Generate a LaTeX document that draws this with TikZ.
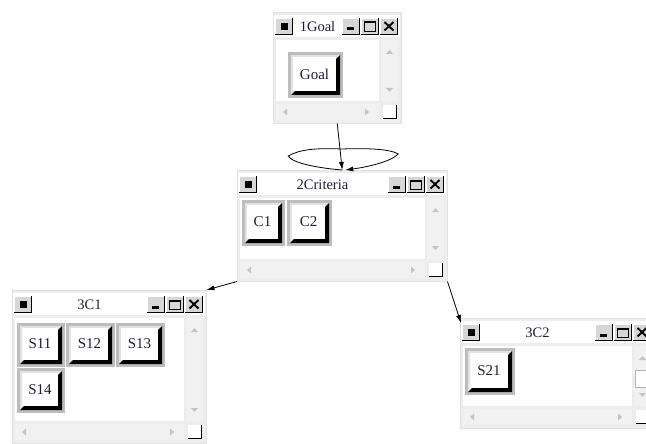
\documentclass[tikz,border=0pt]{standalone}
\usepackage{fontspec}
\setmainfont{Liberation Serif}
\usetikzlibrary{calc,arrows.meta}

\definecolor{wfr}{HTML}{EDEDED}
\definecolor{wbd}{HTML}{E2E2E2}
\definecolor{sbar}{HTML}{F1F1F1}
\definecolor{bfr}{HTML}{BDBDBD}
\definecolor{blt}{HTML}{E2E2E2}
\definecolor{tbf}{HTML}{D6D6D6}
\definecolor{arw}{HTML}{C4C4C4}
\definecolor{txt}{HTML}{1E1E3A}

% title-bar button face
\newcommand\tbx[4]{%
  \fill[tbf] (#1,#2) rectangle (#3,#4);
  \draw[white, line width=1pt] (#1+0.5,#4) -- (#1+0.5,#2+0.5) -- (#3,#2+0.5);
  \draw[black, line width=1.2pt] (#1,#4-0.6) -- (#3-0.6,#4-0.6) -- (#3-0.6,#2);
}

% window: name, x0, y0, x1, y1, title
\newcommand\wnd[6]{%
  \pgfmathsetmacro\ww{#4-#2}\pgfmathsetmacro\wh{#5-#3}%
  \node[winbox, minimum width=\ww pt, minimum height=\wh pt, anchor=north west] (#1) at (#2,#3) {};
  \fill[white] (#2+1,#3+3) rectangle (#4-1,#3+25);
  \fill[white] (#2+3,#3+28) rectangle (#4-22,#5-22);
  \fill[sbar] (#4-20,#3+28) rectangle (#4-3,#5-22);
  \fill[arw] (#4-15,#3+42) -- (#4-8,#3+42) -- (#4-11.5,#3+38) -- cycle;
  \fill[arw] (#4-15,#5-35) -- (#4-8,#5-35) -- (#4-11.5,#5-31) -- cycle;
  \fill[sbar] (#2+3,#5-19) rectangle (#4-22,#5-3);
  \fill[arw] (#2+10,#5-11) -- (#2+14,#5-14.5) -- (#2+14,#5-7.5) -- cycle;
  \fill[arw] (#4-32,#5-11) -- (#4-36,#5-14.5) -- (#4-36,#5-7.5) -- cycle;
  \fill[white] (#4-18,#5-18) rectangle (#4-4,#5-4);
  \draw[black, line width=1pt] (#4-18,#5-4.5) -- (#4-4.5,#5-4.5) -- (#4-4.5,#5-18);
  \tbx{#2+2}{#3+6}{#2+20}{#3+23}
  \fill[black] (#2+7.5,#3+11) rectangle (#2+14.5,#3+18);
  \tbx{#4-59}{#3+6}{#4-41}{#3+23}
  \fill[black] (#4-54,#3+15.5) rectangle (#4-47,#3+18.5);
  \tbx{#4-40}{#3+6}{#4-22}{#3+23}
  \draw[black, line width=0.9pt] (#4-37,#3+10) rectangle (#4-25.5,#3+19);
  \draw[black, line width=2pt] (#4-37,#3+10.5) -- (#4-25.5,#3+10.5);
  \tbx{#4-21}{#3+6}{#4-3}{#3+23}
  \draw[black, line width=1.9pt] (#4-16.5,#3+10) -- (#4-7.5,#3+18.5) (#4-16.5,#3+18.5) -- (#4-7.5,#3+10);
  \node[ttl] (#1-t) at ({(#2+#4-39)/2},#3+15) {#6};
}

% content button: name, x0, y0, x1, y1, label
\newcommand\cbt[6]{%
  \fill[bfr] (#2,#3) rectangle (#4,#5);
  \fill[blt] (#2+3,#3+3) rectangle (#4-3,#5-3);
  \fill[black] (#4-3,#3+3) -- (#4-3,#5-3) -- (#2+3,#5-3) -- (#2+7,#5-7) -- (#4-7,#5-7) -- (#4-7,#3+7) -- cycle;
  \fill[white] (#2+5,#3+5) rectangle (#4-7,#5-7);
  \node[lbl] (#1) at ({(#2+#4)/2-1},{(#3+#5)/2-1}) {#6};
}

\begin{document}
\begin{tikzpicture}[x=1pt,y=-1pt,
  winbox/.style={draw=wbd, fill=wfr, inner sep=0pt, line width=0.5pt},
  ttl/.style={font=\fontsize{14.5}{16}\selectfont, text=txt, inner sep=0pt},
  lbl/.style={font=\fontsize{15}{16}\selectfont, text=txt, inner sep=0pt},
  arr/.style={-{Latex[length=8pt,width=5pt]}, line width=0.8pt, black}]
\useasboundingbox (0,0) rectangle (646,444);
\clip (0,0) rectangle (646,444);
\fill[white] (0,0) rectangle (646,444);

\wnd{w1}{273}{12}{401}{123}{1Goal}
\cbt{goal}{288}{52}{343}{98}{Goal}

\wnd{w2}{237}{170}{447}{281}{2Criteria}
\cbt{c1}{242}{200}{285}{246}{C1}
\cbt{c2}{287}{200}{332}{246}{C2}

\wnd{w3}{12}{290}{206}{443}{3C1}
\cbt{s11}{17}{323}{65}{367}{S11}
\cbt{s12}{66}{323}{115}{367}{S12}
\cbt{s13}{116}{323}{165}{367}{S13}
\cbt{s14}{17}{368}{65}{413}{S14}

\wnd{w4}{460}{318}{654}{428}{3C2}
\fill[white] (635,370) rectangle (651,387);
\draw[gray!60, line width=0.6pt] (635,370) rectangle (651,387);
\cbt{s21}{465}{348}{515}{395}{S21}

% connectors
\draw[arr] (w1.south) -- (w2.north);
\draw[arr] (w2.north) .. controls ($(w2.north)+(-25,-2)$) and ($(w2.north)+(-50,-7)$) ..
  ($(w2.north)+(-54,-14)$) .. controls ($(w2.north)+(-42,-21)$) and ($(w2.north)+(-25,-22)$) ..
  ($(w2.north)+(0,-21)$) .. controls ($(w2.north)+(25,-22)$) and ($(w2.north)+(48,-21)$) ..
  ($(w2.north)+(56,-16)$) .. controls ($(w2.north)+(48,-8)$) and ($(w2.north)+(25,-3)$) ..
  ($(w2.north)+(3,0)$);
\draw[arr] (w2.south west) -- (w3.north east);
\draw[arr] (w2.south east) -- ($(w4.north west)+(1,5)$);
\end{tikzpicture}
\end{document}
